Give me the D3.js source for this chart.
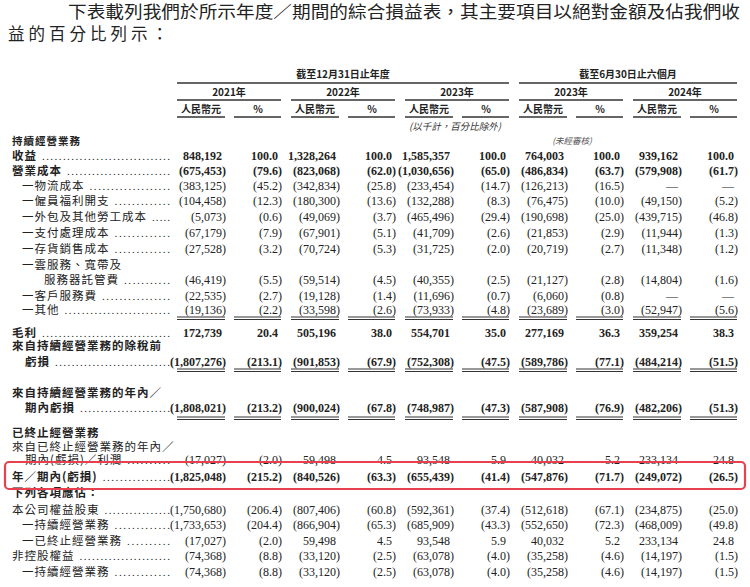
<!DOCTYPE html><html><head><meta charset="utf-8">
<script src="https://cdn.jsdelivr.net/npm/d3@7"></script>
<style>body{margin:0;background:#fff}</style></head><body><svg id="c" width="750" height="587"></svg>
<script>
const periods=["2021年","2022年","2023年","2023年","2024年"];
const rmb2021=[848192,-675453,-383125,-104458,-5073,-67179,-27528,-46419,-22535,-19136,172739,-1807276,-1808021,-17027,-1825048,-1750680,-1733653,-17027,-74368,-74368];
const pct2021=[100.0,-79.6,-45.2,-12.3,-0.6,-7.9,-3.2,-5.5,-2.7,-2.2,20.4,-213.1,-213.2,-2.0,-215.2,-206.4,-204.4,-2.0,-8.8,-8.8];
const rmb2022=[1328264,-823068,-342834,-180300,-49069,-67901,-70724,-59514,-19128,-33598,505196,-901853,-900024,59498,-840526,-807406,-866904,59498,-33120,-33120];
const pct2022=[100.0,-62.0,-25.8,-13.6,-3.7,-5.1,-5.3,-4.5,-1.4,-2.6,38.0,-67.9,-67.8,4.5,-63.3,-60.8,-65.3,4.5,-2.5,-2.5];
const rmb2023=[1585357,-1030656,-233454,-132288,-465496,-41709,-31725,-40355,-11696,-73933,554701,-752308,-748987,93548,-655439,-592361,-685909,93548,-63078,-63078];
const pct2023=[100.0,-65.0,-14.7,-8.3,-29.4,-2.6,-2.0,-2.5,-0.7,-4.8,35.0,-47.5,-47.3,5.9,-41.4,-37.4,-43.3,5.9,-4.0,-4.0];
const rmbH2023=[764003,-486834,-126213,-76475,-190698,-21853,-20719,-21127,-6060,-23689,277169,-589786,-587908,40032,-547876,-512618,-552650,40032,-35258,-35258];
const pctH2023=[100.0,-63.7,-16.5,-10.0,-25.0,-2.9,-2.7,-2.8,-0.8,-3.0,36.3,-77.1,-76.9,5.2,-71.7,-67.1,-72.3,5.2,-4.6,-4.6];
const rmbH2024=[939162,-579908,null,-49150,-439715,-11944,-11348,-14804,null,-52947,359254,-484214,-482206,233134,-249072,-234875,-468009,233134,-14197,-14197];
const pctH2024=[100.0,-61.7,null,-5.2,-46.8,-1.3,-1.2,-1.6,null,-5.6,38.3,-51.5,-51.3,24.8,-26.5,-25.0,-49.8,24.8,-1.5,-1.5];
// label rows: [text, indent, bold, dataIndex or -1, leader]
const rowLabels=[
 ["持續經營業務",0,1,-1,0],["收益",0,1,0,1],["營業成本",0,1,1,1],["一物流成本",1,0,2,1],["一僱員福利開支",1,0,3,1],
 ["一外包及其他勞工成本",1,0,4,1],["一支付處理成本",1,0,5,1],["一存貨銷售成本",1,0,6,1],["一雲服務、寬帶及",1,0,-1,0],
 ["服務器託管費",2,0,7,1],["一客戶服務費",1,0,8,1],["一其他",1,0,9,1],["毛利",0,1,10,1],["來自持續經營業務的除稅前",0,1,-1,0],
 ["虧損",3,1,11,1],["來自持續經營業務的年內／",0,1,-1,0],["期內虧損",3,1,12,1],["已終止經營業務",0,1,-1,0],
 ["來自已終止經營業務的年內／",0,0,-1,0],["期內(虧損)／利潤",3,0,13,1],["年／期內(虧損)",0,1,14,1],["下列各項應佔：",0,1,-1,0],
 ["本公司權益股東",0,0,15,1],["一持續經營業務",1,0,16,1],["一已終止經營業務",1,0,17,1],["非控股權益",0,0,18,1],["一持續經營業務",1,0,19,1]];
const rowY=[141,156,171,186,201,217,233,249,265,280,296,310,333,346,362,393,408,433,447,460,477,493,510,525,541,556,572];
const cols=[rmb2021,pct2021,rmb2022,pct2022,rmb2023,pct2023,rmbH2023,pctH2023,rmbH2024,pctH2024];

const svg=d3.select("#c");
const F="'Noto Sans CJK TC','Noto Sans CJK SC',sans-serif";
const NF="'Liberation Serif','DejaVu Serif',serif";
const x=d3.scaleLinear().domain([0,5]).range([177,747]);
const gw=104;
const y=d3.scaleLinear().domain([0,587]).range([0,587]);
const fmtN=d3.format(",.0f"), fmtP=d3.format(".1f");
function fmt(v,isP){if(v==null)return "—";const s=isP?fmtP(Math.abs(v)):fmtN(Math.abs(v));return v<0?"("+s+")":s;}

svg.append("text").attr("x",68).attr("y",18).attr("font-family",F).attr("font-size",16.5).attr("fill","#222").attr("textLength",672).attr("lengthAdjust","spacingAndGlyphs").text("下表載列我們於所示年度／期間的綜合損益表，其主要項目以絕對金額及佔我們收");
svg.append("text").attr("x",8).attr("y",40).attr("font-family",F).attr("font-size",16.5).attr("fill","#222").attr("letter-spacing",4).text("益的百分比列示：");

const hdr=svg.append("g").attr("font-family",F).attr("fill","#222").attr("font-weight","bold").attr("font-size",10);
hdr.append("text").attr("x",(x(0)+x(3)-10)/2).attr("y",78).attr("text-anchor","middle").text("截至12月31日止年度");
hdr.append("text").attr("x",(x(3)+x(5)-10)/2).attr("y",78).attr("text-anchor","middle").text("截至6月30日止六個月");
function hl(x1,x2,yy,w){svg.append("line").attr("x1",x1).attr("x2",x2).attr("y1",yy).attr("y2",yy).attr("stroke","#333").attr("stroke-width",w||1.6);}
hl(x(0),x(3)-10,83);hl(x(3),x(5)-10,83);
periods.forEach((p,i)=>{
 hdr.append("text").attr("x",x(i)+gw/2).attr("y",96).attr("text-anchor","middle").text(p);
 hl(x(i),x(i)+gw,100);
 hdr.append("text").attr("x",x(i)+24).attr("y",113).attr("text-anchor","middle").text("人民幣元");
 hdr.append("text").attr("x",x(i)+81).attr("y",113).attr("text-anchor","middle").text("%");
 hl(x(i),x(i)+48,117);hl(x(i)+57,x(i)+gw,117);
});
svg.append("text").attr("x",455).attr("y",130).attr("text-anchor","middle").attr("font-family",F).attr("font-style","italic").attr("font-size",9.5).attr("fill","#333").text("(以千計，百分比除外)");
svg.append("text").attr("x",572).attr("y",144).attr("text-anchor","middle").attr("font-family",F).attr("font-style","italic").attr("font-size",8.5).attr("fill","#555").text("(未經審核)");

const g=svg.append("g").attr("font-family",F).attr("font-size",11.5).attr("fill","#222");
const indentX=[12,22,44,25];
rowLabels.forEach((r,k)=>{
 const yy=y(rowY[k])+4;
 const t=g.append("text").attr("x",indentX[r[1]]).attr("y",yy).attr("font-weight",r[2]?"bold":"normal").attr("font-size",k==0?10.5:11.5).attr("letter-spacing",1).text(r[0]);
 const w=t.node().getComputedTextLength()+indentX[r[1]]+2;
 if(r[4]&&w<168){const n=Math.max(1,Math.floor((170-w)/4.2));g.append("text").attr("x",w+3).attr("y",yy).attr("font-family",NF).attr("font-size",11).attr("textLength",170-w-3).attr("lengthAdjust","spacing").text(".".repeat(n));}
 if(r[3]>=0){
  cols.forEach((c,ci)=>{
   const v=c[r[3]],isP=ci%2==1, pi=Math.floor(ci/2);
   const right=isP?x(pi)+gw+1:x(pi)+49;
   g.append("text").attr("x",v==null?right-10:(v<0?right:right-4)).attr("y",yy).attr("font-family",NF)
    .attr("text-anchor",v==null?"middle":"end").attr("font-weight",r[2]?"bold":"normal").attr("font-size",12).text(fmt(v,isP));
  });
 }
});
function colRules(yy){periods.forEach((p,i)=>{[[0,48],[57,gw]].forEach(s=>{hl(x(i)+s[0],x(i)+s[1],yy,1.1);hl(x(i)+s[0],x(i)+s[1],yy+2.5,1.1);});});}
colRules(317);colRules(369);colRules(417);
svg.append("rect").attr("x",5).attr("y",462).attr("width",740).attr("height",27).attr("rx",4).attr("fill","none").attr("stroke","#e8404f").attr("stroke-width",2.2);
</script></body></html>
